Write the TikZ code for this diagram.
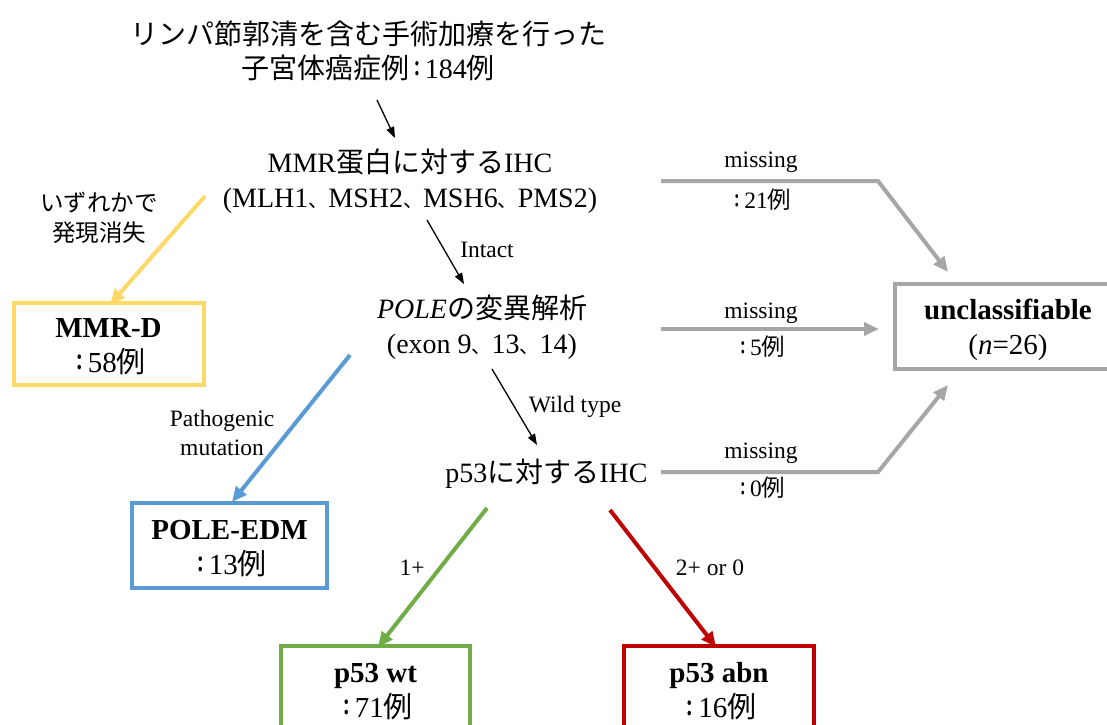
\documentclass[tikz,border=0pt]{standalone}
\usepackage{fontspec}
\usepackage{graphicx}
\setmainfont{Liberation Serif}
\newfontfamily\jp{Noto Sans CJK JP}
\usetikzlibrary{arrows.meta}
\definecolor{cyel}{HTML}{FFD966}
\definecolor{cblu}{HTML}{5B9BD5}
\definecolor{cgrn}{HTML}{70AD47}
\definecolor{cred}{HTML}{C00000}
\definecolor{cgry}{HTML}{A6A6A6}
% full-width colon, narrowed and raised to the digits' middle
\newcommand\jcol[2]{\raisebox{#2pt}{\scalebox{0.75}[1]{\jp\bfseries\fontsize{#1}{#1}\selectfont ：}}}
% ideographic comma set a little smaller
\newcommand\jcom{{\jp\fontsize{20}{20}\selectfont 、}}
\begin{document}
\begin{tikzpicture}[x=1pt,y=-1pt,
  main/.style={inner sep=0pt, align=center, font=\fontsize{28}{35}\selectfont},
  lbl/.style={inner sep=0pt, align=center, font=\fontsize{23.5}{29}\selectfont},
  catbox/.style={draw, line width=4pt, minimum height=85pt, inner sep=0pt},
  cattext/.style={inner sep=0pt, align=center, font=\fontsize{29}{35}\selectfont},
  blk/.style={draw=black, line width=1.3pt, -{Triangle[length=11pt,width=8pt]}},
  col/.style={line width=4pt, -{Triangle[length=15pt,width=13pt]}},
  gry/.style={draw=cgry, line width=4pt, line join=miter, -{Triangle[length=15pt,width=13pt]}}
]
\clip (0,0) rectangle (1107,724);
\fill[white] (0,0) rectangle (1107,724);

% text nodes
\node[main, font=\fontsize{28}{34}\selectfont] (title) at (368,50.5) {{\jp リンパ節郭清を含む手術加療を行った}\\{\jp 子宮体癌症例}\jcol{21}{1.5}184{\jp 例}};
\node[main] (ihc) at (410,181) {MMR{\jp 蛋白に対する}IHC\\(MLH1\jcom MSH2\jcom MSH6\jcom PMS2)};
\node[main] (pole) at (482,327) {\textit{POLE}{\jp の変異解析}\\(exon 9\jcom 13\jcom 14)};
\node[main] (p53) at (546.5,474) {p53{\jp に対する}IHC};

% category boxes
\node[catbox, draw=cyel, minimum width=190pt, minimum height=82pt] (mmrd) at (108.5,343.5) {};
\node[cattext] (mmrdt) at ([yshift=-3pt]mmrd.center) {\textbf{MMR-D}\\\jcol{22}{1.5}58{\jp 例}};
\node[catbox, draw=cblu, minimum width=195pt] (edm) at (229.5,545.5) {};
\node[cattext] (edmt) at ([yshift=-3pt]edm.center) {\textbf{POLE-EDM}\\\jcol{22}{1.5}13{\jp 例}};
\node[catbox, draw=cgrn, minimum width=189pt] (wt) at (375.5,688.5) {};
\node[cattext] (wtt) at ([yshift=-3pt]wt.center) {\textbf{p53 wt}\\\jcol{22}{1.5}71{\jp 例}};
\node[catbox, draw=cred, minimum width=190pt] (abn) at (719,688.5) {};
\node[cattext] (abnt) at ([yshift=-3pt]abn.center) {\textbf{p53 abn}\\\jcol{22}{1.5}16{\jp 例}};
\node[catbox, draw=cgry, minimum width=226pt] (unc) at (1008,326.5) {};
\node[cattext] (unct) at ([yshift=-3pt]unc.center) {\textbf{unclassifiable}\\(\textit{n}=26)};

% coordinates
\coordinate (a0s) at (377,100);
\coordinate (a0e) at (395,138);
\coordinate (a1s) at (427,220);
\coordinate (a1e) at (464,284);
\coordinate (a2s) at (492,369);
\coordinate (a2e) at (537,445);
\coordinate (ys) at (205,196);
\coordinate (bs) at (350,355);
\coordinate (gs) at (487,508);
\coordinate (rs) at (610,510);
\coordinate (g1s) at (661,181);
\coordinate (g1c) at (878,181);
\coordinate (g1e) at (948,272);
\coordinate (g2s) at (661,329);
\coordinate (g2e) at (879,329);
\coordinate (g3s) at (661,472);
\coordinate (g3c) at (878,472);
\coordinate (g3e) at (948,385);

% black arrows
\draw[blk] (a0s) -- (a0e);
\draw[blk] (a1s) -- (a1e);
\draw[blk] (a2s) -- (a2e);

% colored arrows
\draw[col, draw=cyel] (ys) -- ([xshift=1.5pt,yshift=-4pt]mmrd.north);
\draw[col, draw=cblu] (bs) -- ([xshift=2.5pt,yshift=-1pt]edm.north);
\draw[col, draw=cgrn] (gs) -- ([xshift=2.5pt,yshift=-3pt]wt.north);
\draw[col, draw=cred] (rs) -- ([xshift=-3pt,yshift=-3pt]abn.north);

% gray arrows
\draw[gry] (g1s) -- (g1c) -- (g1e);
\draw[gry] (g2s) -- (g2e);
\draw[gry] (g3s) -- (g3c) -- (g3e);

% labels
\node[lbl] (lint) at (487,250) {Intact};
\node[lbl] (lwild) at (575,407) {Wild type};
\node[lbl] (lone) at (412,568) {1+};
\node[lbl] (ltwo) at (710,568) {2+ or 0};
\node[lbl] (lpath) at (222,432.5) {Pathogenic\\mutation};
\node[lbl, font=\fontsize{23.5}{30}\selectfont\jp] (lloss) at (99,218) {いずれかで\\発現消失};
\node[lbl] (m1) at (761,162) {missing};
\node[lbl] (n1) at (761,200) {\jcol{18}{1.2}21{\jp 例}};
\node[lbl] (m2) at (761,313) {missing};
\node[lbl] (n2) at (761,347) {\jcol{18}{1.2}5{\jp 例}};
\node[lbl] (m3) at (761,453) {missing};
\node[lbl] (n3) at (761,488) {\jcol{18}{1.2}0{\jp 例}};
\end{tikzpicture}
\end{document}
